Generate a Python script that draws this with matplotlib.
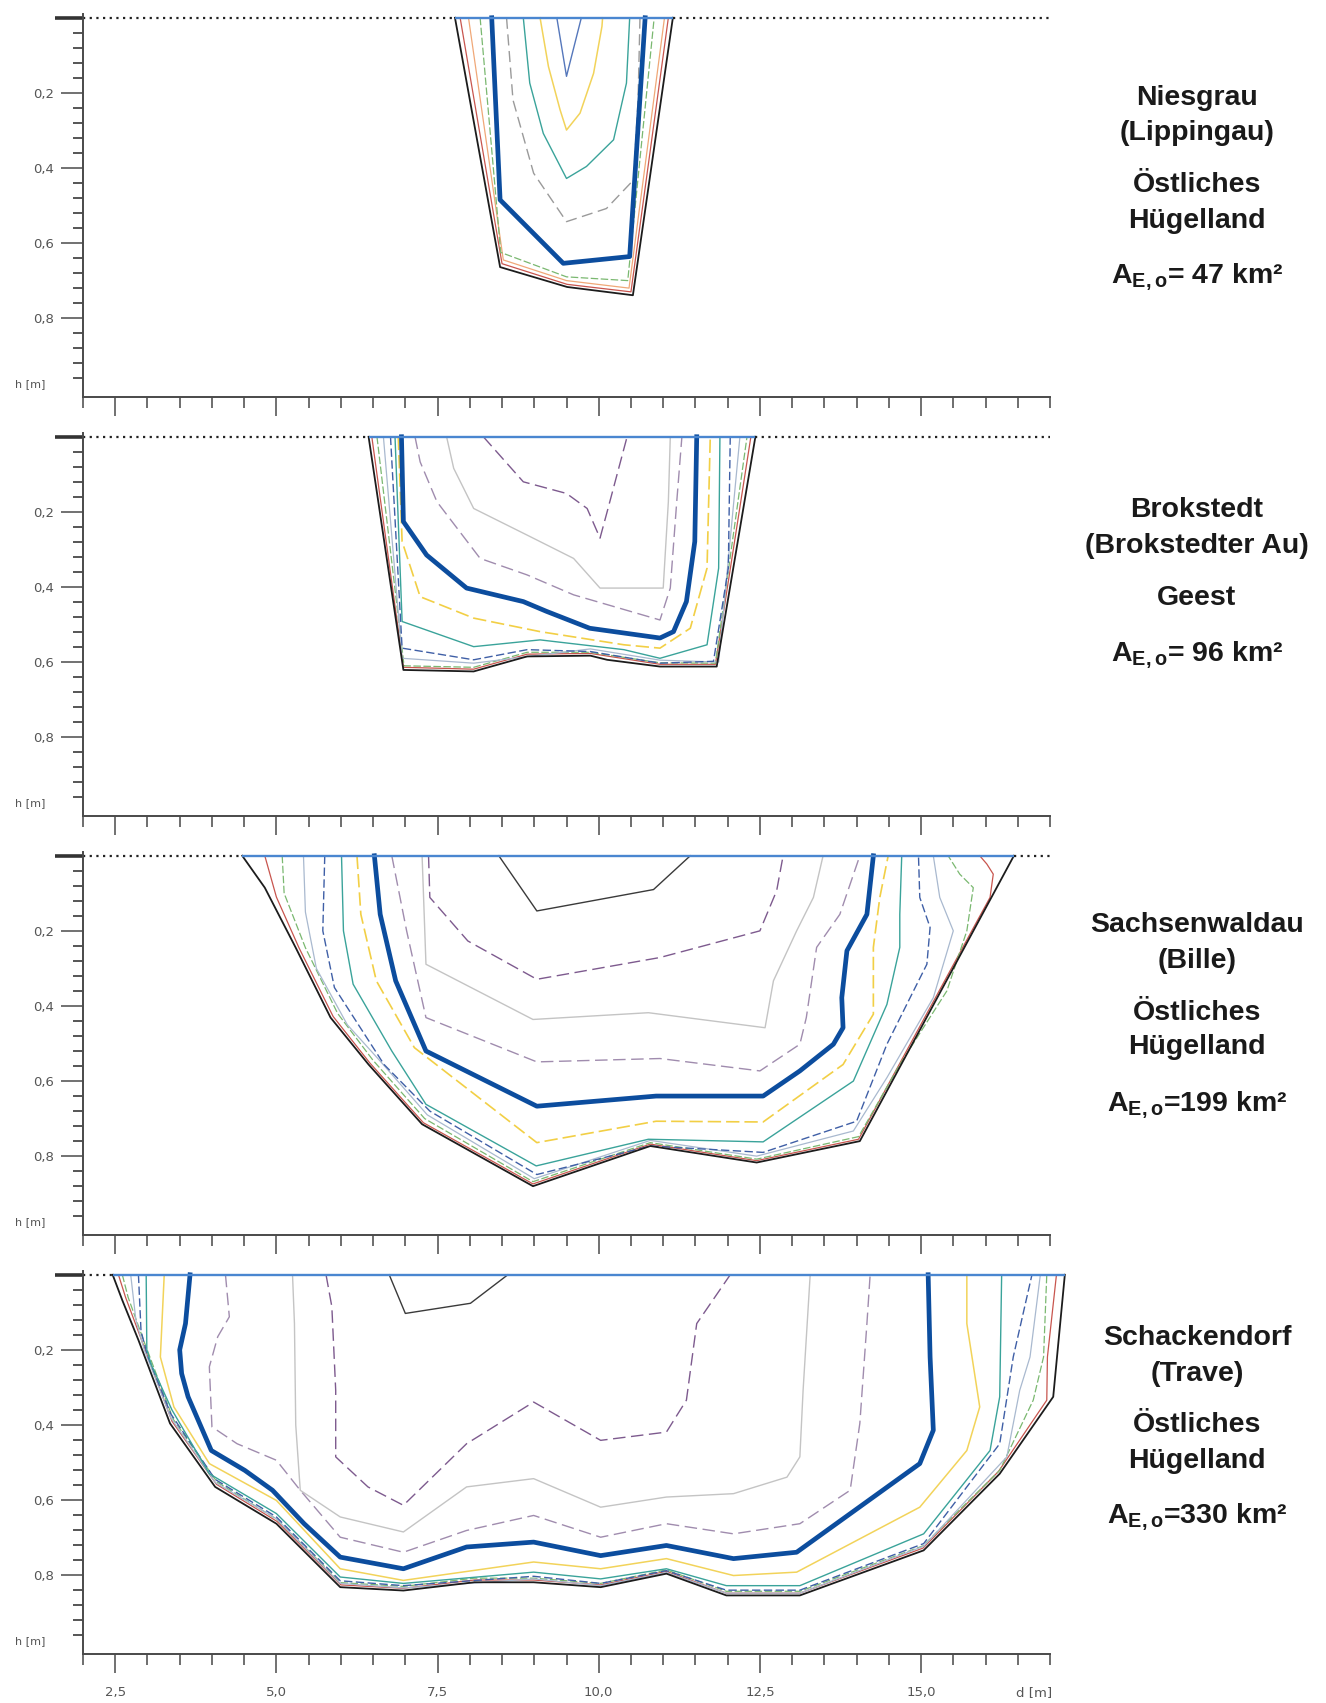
import matplotlib
matplotlib.use("Agg")
import matplotlib.pyplot as plt
from matplotlib.ticker import FixedLocator

plt.rcParams['mathtext.fontset'] = 'custom'
plt.rcParams['mathtext.rm'] = 'Liberation Sans:bold'
plt.rcParams['mathtext.bf'] = 'Liberation Sans:bold'
plt.rcParams['mathtext.it'] = 'Liberation Sans:bold'

# ---------------- axis ticks ----------------
X_MAJOR = [2.5, 5.0, 7.5, 10.0, 12.5, 15.0]
X_LABELS = ["2,5", "5,0", "7,5", "10,0", "12,5", "15,0"]
Y_MAJOR = [0.2, 0.4, 0.6, 0.8]
Y_LABELS = ["0,2", "0,4", "0,6", "0,8"]

# ---------------- Panel 1: Niesgrau ----------------
P1_BED_X = [7.77, 8.47, 9.51, 10.53, 11.15]
P1_BED_H = [0.0, 0.664, 0.717, 0.739, 0.0]
P1_RED_X = [7.85, 8.50, 9.51, 10.50, 11.08]
P1_RED_H = [0.0, 0.655, 0.710, 0.730, 0.0]
P1_ORANGE_X = [7.98, 8.52, 9.50, 10.47, 11.02]
P1_ORANGE_H = [0.0, 0.645, 0.700, 0.720, 0.0]
P1_GREEN_X = [8.16, 8.48, 9.50, 10.45, 10.86]
P1_GREEN_H = [0.0, 0.625, 0.690, 0.700, 0.0]
P1_THICK_X = [8.34, 8.47, 9.45, 10.48, 10.72]
P1_THICK_H = [0.0, 0.485, 0.654, 0.636, 0.0]
P1_GRAYD_X = [8.57, 8.67, 8.99, 9.50, 10.12, 10.54, 10.61, 10.64]
P1_GRAYD_H = [0.0, 0.219, 0.414, 0.543, 0.508, 0.432, 0.219, 0.0]
P1_TEAL_X = [8.83, 8.93, 9.14, 9.50, 9.81, 10.23, 10.43, 10.48]
P1_TEAL_H = [0.0, 0.174, 0.308, 0.428, 0.396, 0.325, 0.174, 0.0]
P1_YELLOW_X = [9.09, 9.22, 9.40, 9.50, 9.71, 9.92, 10.05, 10.06]
P1_YELLOW_H = [0.0, 0.130, 0.245, 0.299, 0.254, 0.148, 0.023, 0.0]
P1_BLUE_X = [9.35, 9.50, 9.73]
P1_BLUE_H = [0.0, 0.156, 0.0]

# ---------------- Panel 2: Brokstedt ----------------
P2_BED_X = [6.43, 6.97, 8.06, 8.89, 9.87, 10.13, 10.95, 11.83, 12.43]
P2_BED_H = [0.0, 0.621, 0.625, 0.585, 0.583, 0.594, 0.612, 0.612, 0.0]
P2_RED_X = [6.48, 6.97, 8.06, 8.89, 9.87, 10.95, 11.81, 12.36]
P2_RED_H = [0.0, 0.614, 0.619, 0.579, 0.577, 0.606, 0.606, 0.0]
P2_GREEN_X = [6.56, 6.98, 8.06, 8.89, 9.87, 10.95, 11.81, 12.30]
P2_GREEN_H = [0.0, 0.610, 0.614, 0.574, 0.574, 0.602, 0.603, 0.0]
P2_LGRAY_X = [6.66, 6.95, 8.06, 9.87, 10.95, 11.86, 12.19]
P2_LGRAY_H = [0.0, 0.590, 0.603, 0.565, 0.595, 0.600, 0.0]
P2_BLUED_X = [6.77, 6.95, 8.06, 8.89, 9.87, 10.95, 11.78, 12.01, 12.04]
P2_BLUED_H = [0.0, 0.563, 0.594, 0.567, 0.572, 0.603, 0.598, 0.350, 0.0]
P2_TEAL_X = [6.84, 6.95, 8.06, 9.09, 10.39, 10.95, 11.68, 11.86, 11.88]
P2_TEAL_H = [0.0, 0.492, 0.559, 0.541, 0.567, 0.590, 0.554, 0.350, 0.0]
P2_YELLOW_X = [6.89, 6.95, 7.23, 8.06, 9.09, 10.39, 10.95, 11.42, 11.68, 11.73]
P2_YELLOW_H = [0.0, 0.279, 0.426, 0.483, 0.519, 0.554, 0.563, 0.510, 0.350, 0.0]
P2_THICK_X = [6.94, 6.97, 7.33, 7.95, 8.83, 9.19, 9.86, 10.95, 11.16, 11.36, 11.49, 11.52]
P2_THICK_H = [0.0, 0.226, 0.315, 0.403, 0.439, 0.465, 0.510, 0.536, 0.519, 0.439, 0.279, 0.0]
P2_PGRAYD_X = [7.15, 7.23, 7.49, 8.16, 8.89, 9.61, 10.95, 11.11, 11.21, 11.29]
P2_PGRAYD_H = [0.0, 0.067, 0.173, 0.324, 0.368, 0.421, 0.488, 0.403, 0.173, 0.0]
P2_LGRAY2_X = [7.64, 7.75, 8.06, 8.89, 9.61, 10.02, 11.00, 11.08, 11.11]
P2_LGRAY2_H = [0.0, 0.084, 0.191, 0.262, 0.324, 0.403, 0.403, 0.173, 0.0]
P2_PURPLED_X = [8.21, 8.83, 9.50, 9.82, 10.02, 10.13, 10.44]
P2_PURPLED_H = [0.0, 0.120, 0.151, 0.191, 0.270, 0.200, 0.0]

# ---------------- Panel 3: Sachsenwaldau ----------------
P3_BED_X = [4.47, 4.82, 5.30, 5.84, 6.43, 7.26, 8.98, 10.80, 12.45, 14.05, 16.44]
P3_BED_H = [0.0, 0.085, 0.245, 0.431, 0.556, 0.715, 0.880, 0.773, 0.817, 0.760, 0.0]
P3_RED_X = [4.82, 5.00, 5.35, 5.88, 6.45, 7.28, 8.98, 10.80, 12.45, 14.03, 15.85, 16.07, 16.12, 16.02, 15.91]
P3_RED_H = [0.0, 0.110, 0.245, 0.428, 0.552, 0.711, 0.874, 0.768, 0.812, 0.755, 0.180, 0.111, 0.049, 0.022, 0.0]
P3_GREEN_X = [5.09, 5.12, 5.45, 5.95, 6.50, 7.30, 8.98, 10.80, 12.45, 14.03, 14.67, 15.40, 15.71, 15.81, 15.60, 15.42]
P3_GREEN_H = [0.0, 0.100, 0.245, 0.420, 0.545, 0.700, 0.868, 0.764, 0.808, 0.748, 0.556, 0.360, 0.200, 0.085, 0.049, 0.0]
P3_LGRAY_X = [5.42, 5.45, 5.62, 6.10, 6.60, 7.34, 9.00, 10.80, 12.45, 13.95, 14.47, 15.19, 15.50, 15.29, 15.19]
P3_LGRAY_H = [0.0, 0.150, 0.300, 0.450, 0.545, 0.690, 0.860, 0.758, 0.800, 0.733, 0.591, 0.378, 0.200, 0.111, 0.0]
P3_BLUED_X = [5.75, 5.72, 5.90, 6.67, 7.38, 9.04, 10.80, 12.55, 14.00, 14.47, 14.83, 15.09, 15.14, 14.98, 14.96]
P3_BLUED_H = [0.0, 0.200, 0.351, 0.556, 0.680, 0.849, 0.773, 0.790, 0.707, 0.502, 0.378, 0.289, 0.191, 0.111, 0.0]
P3_TEAL_X = [6.01, 6.04, 6.19, 6.79, 7.32, 9.03, 10.77, 12.55, 13.95, 14.47, 14.67, 14.67, 14.70]
P3_TEAL_H = [0.0, 0.200, 0.342, 0.520, 0.662, 0.826, 0.755, 0.762, 0.600, 0.396, 0.244, 0.156, 0.0]
P3_YELLOW_X = [6.25, 6.31, 6.55, 7.14, 9.04, 10.89, 12.55, 13.79, 14.26, 14.26, 14.36, 14.49]
P3_YELLOW_H = [0.0, 0.156, 0.333, 0.511, 0.764, 0.707, 0.709, 0.556, 0.422, 0.244, 0.111, 0.0]
P3_THICK_X = [6.52, 6.61, 6.85, 7.32, 9.04, 10.89, 12.55, 13.12, 13.64, 13.79, 13.77, 13.85, 14.16, 14.26]
P3_THICK_H = [0.0, 0.156, 0.333, 0.520, 0.667, 0.640, 0.640, 0.573, 0.502, 0.458, 0.378, 0.253, 0.156, 0.0]
P3_PGRAYD_X = [6.79, 7.02, 7.32, 9.04, 10.95, 12.50, 13.12, 13.22, 13.38, 13.74, 14.05]
P3_PGRAYD_H = [0.0, 0.200, 0.431, 0.549, 0.540, 0.573, 0.502, 0.431, 0.244, 0.156, 0.0]
P3_LGRAY2_X = [7.26, 7.32, 8.98, 10.77, 12.58, 12.71, 13.07, 13.33, 13.48]
P3_LGRAY2_H = [0.0, 0.289, 0.436, 0.418, 0.458, 0.333, 0.200, 0.111, 0.0]
P3_PURPLED_X = [7.36, 7.38, 7.97, 9.04, 10.95, 12.50, 12.76, 12.86]
P3_PURPLED_H = [0.0, 0.111, 0.227, 0.329, 0.271, 0.200, 0.093, 0.0]
P3_INNER_X = [8.45, 9.04, 10.85, 11.42]
P3_INNER_H = [0.0, 0.147, 0.090, 0.0]

# ---------------- Panel 4: Schackendorf ----------------
P4_BED_X = [2.46, 2.61, 2.86, 3.35, 4.05, 5.00, 5.99, 6.97, 8.07, 8.99, 10.03, 11.05, 11.98, 13.12, 15.04, 16.22, 17.05, 17.23]
P4_BED_H = [0.0, 0.068, 0.174, 0.396, 0.565, 0.663, 0.832, 0.841, 0.819, 0.819, 0.832, 0.796, 0.854, 0.854, 0.734, 0.530, 0.325, 0.0]
P4_RED_X = [2.55, 2.66, 2.90, 3.38, 4.07, 5.01, 6.00, 6.97, 8.07, 8.99, 10.03, 11.05, 11.98, 13.12, 15.03, 16.20, 16.95, 16.96, 17.10]
P4_RED_H = [0.0, 0.060, 0.170, 0.390, 0.558, 0.657, 0.826, 0.835, 0.813, 0.813, 0.826, 0.790, 0.848, 0.848, 0.728, 0.524, 0.334, 0.219, 0.0]
P4_GREEN_X = [2.61, 2.70, 2.93, 3.40, 4.08, 5.01, 6.00, 6.97, 8.07, 8.99, 10.03, 11.05, 11.98, 13.12, 15.03, 16.22, 16.74, 16.90, 16.95]
P4_GREEN_H = [0.0, 0.060, 0.170, 0.385, 0.552, 0.652, 0.820, 0.830, 0.808, 0.808, 0.822, 0.786, 0.843, 0.843, 0.722, 0.521, 0.334, 0.219, 0.0]
P4_LGRAY_X = [2.74, 2.82, 2.95, 3.36, 4.05, 5.00, 5.99, 6.97, 8.99, 10.03, 11.05, 11.98, 13.12, 15.04, 16.33, 16.53, 16.69, 16.85]
P4_LGRAY_H = [0.0, 0.120, 0.200, 0.380, 0.553, 0.650, 0.822, 0.834, 0.810, 0.828, 0.793, 0.848, 0.848, 0.723, 0.485, 0.308, 0.219, 0.0]
P4_BLUED_X = [2.86, 2.90, 3.00, 3.36, 4.05, 5.00, 5.99, 6.97, 8.99, 10.03, 11.05, 11.98, 13.12, 15.04, 16.22, 16.43, 16.72]
P4_BLUED_H = [0.0, 0.150, 0.215, 0.370, 0.545, 0.645, 0.815, 0.828, 0.803, 0.822, 0.788, 0.840, 0.840, 0.716, 0.450, 0.219, 0.0]
P4_TEAL_X = [2.98, 2.99, 3.06, 3.38, 3.96, 5.00, 5.99, 6.97, 8.99, 10.03, 11.05, 11.98, 13.12, 15.04, 16.07, 16.22, 16.25]
P4_TEAL_H = [0.0, 0.200, 0.240, 0.360, 0.530, 0.636, 0.805, 0.822, 0.792, 0.810, 0.783, 0.828, 0.828, 0.690, 0.468, 0.325, 0.0]
P4_YELLOW_X = [3.26, 3.20, 3.41, 3.96, 5.00, 5.99, 6.97, 8.99, 10.03, 11.05, 12.09, 13.07, 14.98, 15.71, 15.91, 15.71, 15.71]
P4_YELLOW_H = [0.0, 0.219, 0.352, 0.503, 0.601, 0.783, 0.814, 0.765, 0.783, 0.756, 0.801, 0.792, 0.619, 0.468, 0.352, 0.130, 0.0]
P4_THICK_X = [3.66, 3.59, 3.50, 3.53, 3.63, 3.99, 4.51, 4.94, 5.43, 5.99, 6.97, 7.95, 8.99, 10.03, 11.05, 12.09, 13.07, 14.98, 15.19, 15.14, 15.11]
P4_THICK_H = [0.0, 0.130, 0.200, 0.263, 0.325, 0.468, 0.521, 0.574, 0.663, 0.752, 0.783, 0.725, 0.712, 0.748, 0.721, 0.756, 0.739, 0.503, 0.414, 0.219, 0.0]
P4_PGRAYD_X = [4.21, 4.27, 4.09, 3.96, 4.00, 4.39, 5.00, 5.37, 5.99, 6.97, 7.95, 8.99, 10.03, 11.05, 12.09, 13.12, 13.90, 14.05, 14.16, 14.21]
P4_PGRAYD_H = [0.0, 0.112, 0.165, 0.245, 0.405, 0.450, 0.494, 0.574, 0.699, 0.739, 0.681, 0.641, 0.699, 0.663, 0.690, 0.663, 0.574, 0.396, 0.130, 0.0]
P4_LGRAY2_X = [5.25, 5.28, 5.30, 5.37, 5.99, 6.97, 7.95, 8.99, 10.03, 11.05, 12.09, 12.92, 13.12, 13.17, 13.28]
P4_LGRAY2_H = [0.0, 0.130, 0.400, 0.574, 0.645, 0.685, 0.565, 0.543, 0.619, 0.592, 0.583, 0.539, 0.485, 0.308, 0.0]
P4_PURPLED_X = [5.77, 5.86, 5.92, 5.92, 6.42, 6.97, 7.95, 8.99, 10.03, 11.05, 11.36, 11.52, 12.04]
P4_PURPLED_H = [0.0, 0.085, 0.308, 0.485, 0.565, 0.614, 0.450, 0.339, 0.441, 0.419, 0.334, 0.130, 0.0]
P4_INNER_X = [6.75, 7.00, 8.01, 8.59]
P4_INNER_H = [0.0, 0.103, 0.076, 0.0]

# ---------------- station texts ----------------
STATION_NAMES = ["Niesgrau", "Brokstedt", "Sachsenwaldau", "Schackendorf"]
RIVERS = ["(Lippingau)", "(Brokstedter Au)", "(Bille)", "(Trave)"]
REGIONS = ["Östliches\nHügelland", "Geest", "Östliches\nHügelland", "Östliches\nHügelland"]
AREAS = ["= 47 km²", "= 96 km²", "=199 km²", "=330 km²"]

# ---------------- styles ----------------
ST = {
    'bed': dict(color='#1c1c1c', lw=1.3),
    'red': dict(color='#c8554e', lw=0.9),
    'orange': dict(color='#f0a878', lw=0.9),
    'green': dict(color='#7ab870', lw=0.9, dashes=(6, 2)),
    'lgray': dict(color='#a9b9cf', lw=0.9),
    'blued': dict(color='#3f5fa6', lw=1.0, dashes=(6, 2.5)),
    'teal': dict(color='#3aa39a', lw=1.0),
    'yellowd': dict(color='#f2cf45', lw=1.2, dashes=(8, 3)),
    'yellow': dict(color='#f2d35a', lw=1.1),
    'thick': dict(color='#0c4d9e', lw=3.4),
    'pgrayd': dict(color='#a08cae', lw=1.0, dashes=(9, 4)),
    'lgray2': dict(color='#c4c4c4', lw=1.0),
    'purpled': dict(color='#7d5a8e', lw=1.0, dashes=(9, 4)),
    'inner': dict(color='#3a3a3a', lw=1.0),
    'grayd': dict(color='#9a9a9a', lw=1.0, dashes=(8, 4)),
    'bluethin': dict(color='#5577bb', lw=1.0),
}

PANELS = [
    [(P1_RED_X, P1_RED_H, 'red'), (P1_ORANGE_X, P1_ORANGE_H, 'orange'),
     (P1_GREEN_X, P1_GREEN_H, 'green'), (P1_GRAYD_X, P1_GRAYD_H, 'grayd'),
     (P1_TEAL_X, P1_TEAL_H, 'teal'), (P1_YELLOW_X, P1_YELLOW_H, 'yellow'),
     (P1_BLUE_X, P1_BLUE_H, 'bluethin'), (P1_BED_X, P1_BED_H, 'bed'),
     (P1_THICK_X, P1_THICK_H, 'thick')],
    [(P2_RED_X, P2_RED_H, 'red'), (P2_GREEN_X, P2_GREEN_H, 'green'),
     (P2_LGRAY_X, P2_LGRAY_H, 'lgray'), (P2_BLUED_X, P2_BLUED_H, 'blued'),
     (P2_TEAL_X, P2_TEAL_H, 'teal'), (P2_YELLOW_X, P2_YELLOW_H, 'yellowd'),
     (P2_PGRAYD_X, P2_PGRAYD_H, 'pgrayd'), (P2_LGRAY2_X, P2_LGRAY2_H, 'lgray2'),
     (P2_PURPLED_X, P2_PURPLED_H, 'purpled'), (P2_BED_X, P2_BED_H, 'bed'),
     (P2_THICK_X, P2_THICK_H, 'thick')],
    [(P3_RED_X, P3_RED_H, 'red'), (P3_GREEN_X, P3_GREEN_H, 'green'),
     (P3_LGRAY_X, P3_LGRAY_H, 'lgray'), (P3_BLUED_X, P3_BLUED_H, 'blued'),
     (P3_TEAL_X, P3_TEAL_H, 'teal'), (P3_YELLOW_X, P3_YELLOW_H, 'yellowd'),
     (P3_PGRAYD_X, P3_PGRAYD_H, 'pgrayd'), (P3_LGRAY2_X, P3_LGRAY2_H, 'lgray2'),
     (P3_PURPLED_X, P3_PURPLED_H, 'purpled'), (P3_INNER_X, P3_INNER_H, 'inner'),
     (P3_BED_X, P3_BED_H, 'bed'), (P3_THICK_X, P3_THICK_H, 'thick')],
    [(P4_RED_X, P4_RED_H, 'red'), (P4_GREEN_X, P4_GREEN_H, 'green'),
     (P4_LGRAY_X, P4_LGRAY_H, 'lgray'), (P4_BLUED_X, P4_BLUED_H, 'blued'),
     (P4_TEAL_X, P4_TEAL_H, 'teal'), (P4_YELLOW_X, P4_YELLOW_H, 'yellow'),
     (P4_PGRAYD_X, P4_PGRAYD_H, 'pgrayd'), (P4_LGRAY2_X, P4_LGRAY2_H, 'lgray2'),
     (P4_PURPLED_X, P4_PURPLED_H, 'purpled'), (P4_INNER_X, P4_INNER_H, 'inner'),
     (P4_BED_X, P4_BED_H, 'bed'), (P4_THICK_X, P4_THICK_H, 'thick')],
]
BEDS = [(P1_BED_X, P1_BED_H), (P2_BED_X, P2_BED_H), (P3_BED_X, P3_BED_H), (P4_BED_X, P4_BED_H)]

W, H = 1326, 1703
fig = plt.figure(figsize=(W / 100, H / 100), dpi=100)
fig.patch.set_facecolor('white')

ax_left = 83 / W
ax_w = 967 / W
ax_h = 383 / H
tops = [14, 433, 852, 1271]

X_MIN, X_MAX = 2.0, 17.0
Y_MINOR = [0.04 * k for k in range(1, 25) if k % 5 != 0]
X_MINOR = [2.0 + 0.5 * k for k in range(31) if (2.0 + 0.5 * k) not in X_MAJOR]

text_y = [
    [98, 133, 203, 277],
    [510, 546, 598, 655],
    [925, 961, 1030, 1104],
    [1338, 1374, 1443, 1517],
]
text_x = 1197 / W

for i in range(4):
    top = tops[i]
    ax = fig.add_axes([ax_left, 1 - (top + 383) / H, ax_w, ax_h])
    ax.set_xlim(X_MIN, X_MAX)
    ax.set_ylim(1.01, -0.01)
    ax.patch.set_alpha(0)
    for s in ['top', 'right']:
        ax.spines[s].set_visible(False)
    for s in ['left', 'bottom']:
        ax.spines[s].set_color('#4a4a4a')
        ax.spines[s].set_linewidth(1.4)

    ax.yaxis.set_major_locator(FixedLocator(Y_MAJOR))
    ax.set_yticklabels(Y_LABELS)
    ax.yaxis.set_minor_locator(FixedLocator(Y_MINOR))
    ax.xaxis.set_major_locator(FixedLocator(X_MAJOR))
    ax.xaxis.set_minor_locator(FixedLocator(X_MINOR))
    ax.tick_params(axis='y', which='major', direction='out', length=16, width=1.1,
                   color='#4a4a4a', labelcolor='#555555', labelsize=9.5, pad=5)
    ax.tick_params(axis='y', which='minor', direction='out', length=7, width=1.4, color='#555555')
    ax.tick_params(axis='x', which='major', direction='out', length=14, width=1.1,
                   color='#4a4a4a', labelcolor='#555555', labelsize=9.5, pad=9)
    ax.tick_params(axis='x', which='minor', direction='out', length=8, width=1.2, color='#555555')
    if i < 3:
        ax.tick_params(axis='x', labelbottom=False)
    else:
        ax.set_xticklabels(X_LABELS)
        ax.annotate('d [m]', xy=(16.75, 0), xycoords=('data', 'axes fraction'),
                    xytext=(0, -23), textcoords='offset points', ha='center', va='top',
                    fontsize=9.5, color='#555555', annotation_clip=False)

    ax.text(1.18, 0.975, 'h [m]', fontsize=8, color='#555555', ha='center', va='center',
            clip_on=False)

    bx, bh = BEDS[i]
    # surface line
    ax.plot([1.57, 2.0], [0, 0], color='#333333', lw=2.6, clip_on=False, solid_capstyle='butt')
    ax.plot([2.0, bx[0]], [0, 0], color='#222222', lw=1.6, ls=(0, (1, 2)), clip_on=False)
    if bx[-1] < X_MAX:
        ax.plot([bx[-1], X_MAX], [0, 0], color='#222222', lw=1.6, ls=(0, (1, 2)), clip_on=False)

    for lx, lh, key in PANELS[i]:
        st = dict(ST[key])
        ax.plot(lx, lh, clip_on=False, solid_joinstyle='round', **st)

    ax.plot([bx[0], bx[-1]], [0, 0], color='#4a86d0', lw=1.7, clip_on=False,
            solid_capstyle='butt')

    # right-hand texts
    ys = text_y[i]
    tkw = dict(ha='center', va='center', fontsize=20.5, fontweight='bold',
               family='Liberation Sans', color='#1a1a1a')
    fig.text(text_x, 1 - ys[0] / H, STATION_NAMES[i], **tkw)
    fig.text(text_x, 1 - ys[1] / H, RIVERS[i], **tkw)
    fig.text(text_x, 1 - ys[2] / H, REGIONS[i], linespacing=1.45, **tkw)
    fig.text(text_x, 1 - ys[3] / H, r'$\mathrm{A}_{\mathrm{E,o}}$' + AREAS[i], **tkw)

fig.savefig('out.png', dpi=100, facecolor='white')
